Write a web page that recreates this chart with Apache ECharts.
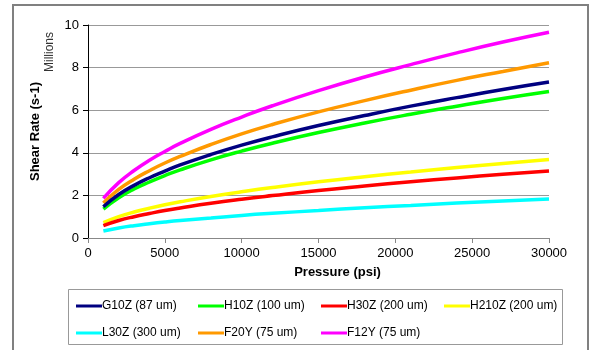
<!DOCTYPE html>
<html>
<head>
<meta charset="UTF-8">
<title>Shear Rate vs Pressure</title>
<script src="https://cdn.jsdelivr.net/npm/echarts@6/dist/echarts.min.js"></script>
<style>
html, body { margin: 0; padding: 0; background: #fff; }
#chart { width: 590px; height: 350px; }
</style>
</head>
<body>
<div id="chart"></div>
<script>
// pressure (psi)
var pressure = [1000, 2000, 3000, 4000, 5000, 6000, 8000, 10000, 12000, 15000, 18000, 21000, 24000, 27000, 30000];

// shear rate, millions s-1
var g10z  = [1.47, 2.04, 2.47, 2.83, 3.14, 3.43, 3.92, 4.36, 4.75, 5.28, 5.75, 6.19, 6.59, 6.97, 7.32];
var h10z  = [1.36, 1.89, 2.30, 2.63, 2.93, 3.20, 3.67, 4.08, 4.45, 4.95, 5.40, 5.81, 6.19, 6.55, 6.88];
var h30z  = [0.58, 0.82, 1.00, 1.15, 1.29, 1.41, 1.63, 1.82, 1.99, 2.23, 2.44, 2.64, 2.82, 2.99, 3.15];
var h210z = [0.72, 1.00, 1.22, 1.40, 1.56, 1.70, 1.95, 2.17, 2.37, 2.64, 2.88, 3.10, 3.31, 3.50, 3.68];
var l30z  = [0.33, 0.47, 0.58, 0.67, 0.75, 0.82, 0.94, 1.06, 1.16, 1.29, 1.42, 1.53, 1.64, 1.74, 1.83];
var f20y  = [1.64, 2.28, 2.76, 3.16, 3.52, 3.83, 4.39, 4.89, 5.33, 5.92, 6.45, 6.94, 7.40, 7.82, 8.23];
var f12y  = [1.86, 2.60, 3.17, 3.65, 4.06, 4.44, 5.10, 5.68, 6.21, 6.92, 7.56, 8.14, 8.69, 9.20, 9.66];

var names = ['G10Z (87 um)', 'H10Z (100 um)', 'H30Z (200 um)', 'H210Z (200 um)', 'L30Z (300 um)', 'F20Y (75 um)', 'F12Y (75 um)'];
var values = [g10z, h10z, h30z, h210z, l30z, f20y, f12y];
var colors = ['#000080', '#00ff00', '#ff0000', '#ffff00', '#00ffff', '#ff9900', '#ff00ff'];

var font = 'Liberation Sans, Arial, sans-serif';

var myChart = echarts.init(document.getElementById('chart'), null, { renderer: 'canvas' });

var series = [];
var legends = [];
// legend slots (4 columns, 2 rows)
var legX = [76, 198, 321, 444];
var legY = [300, 327];
for (var i = 0; i < names.length; i++) {
	var pts = [];
	for (var j = 0; j < pressure.length; j++) {
		pts.push([pressure[j], values[i][j]]);
	}
	series.push({
		name: names[i],
		type: 'line',
		data: pts,
		smooth: true,
		showSymbol: false,
		symbol: 'none',
		lineStyle: { color: colors[i], width: 3.5 },
		itemStyle: { color: colors[i] },
		z: 10 - i
	});
	legends.push({
		data: [{ name: names[i], icon: 'rect' }],
		left: legX[i % 4],
		top: legY[Math.floor(i / 4)],
		itemWidth: 26,
		itemHeight: 3,
		itemGap: 0,
		padding: 0,
		selectedMode: false,
		textStyle: { fontFamily: font, fontSize: 12, color: '#000', padding: [0, 0, 0, -5] }
	});
}

var option = {
	animation: false,
	backgroundColor: '#fff',
	grid: { left: 88, right: 41, top: 25, bottom: 112 },
	legend: legends,
	xAxis: {
		type: 'value',
		min: 0,
		max: 30000,
		interval: 5000,
		name: 'Pressure (psi)',
		nameLocation: 'middle',
		nameGap: 28,
		nameTextStyle: { fontFamily: font, fontSize: 13, fontWeight: 'bold', color: '#000', padding: [0, 0, 0, 38] },
		axisLine: { show: true, lineStyle: { color: '#888', width: 1 } },
		axisTick: { show: true, inside: false, length: 5, lineStyle: { color: '#888' } },
		axisLabel: {
			fontFamily: font, fontSize: 13, color: '#000', margin: 9,
			formatter: function (v) { return String(v); }
		},
		splitLine: { show: false }
	},
	yAxis: {
		type: 'value',
		min: 0,
		max: 10,
		interval: 2,
		name: 'Shear Rate (s-1)',
		nameLocation: 'middle',
		nameGap: 46,
		nameRotate: 90,
		nameTextStyle: { fontFamily: font, fontSize: 13, fontWeight: 'bold', color: '#000' },
		axisLine: { show: true, lineStyle: { color: '#000', width: 1 } },
		axisTick: { show: true, inside: false, length: 5, lineStyle: { color: '#000' } },
		axisLabel: { fontFamily: font, fontSize: 13, color: '#000', margin: 9 },
		splitLine: { show: true, lineStyle: { color: '#999', width: 1 } }
	},
	graphic: [
		{
			type: 'rect',
			shape: { x: 13, y: 5, width: 575, height: 360 },
			style: { fill: 'none', stroke: '#808080', lineWidth: 2 },
			silent: true
		},
		{
			type: 'rect',
			shape: { x: 68.5, y: 289.5, width: 494, height: 55 },
			style: { fill: 'none', stroke: '#999', lineWidth: 1 },
			silent: true
		},
		{
			type: 'text',
			x: 50,
			y: 52,
			rotation: Math.PI / 2,
			style: { text: 'Millions', fontFamily: font, fontSize: 12, fill: '#333', align: 'center', verticalAlign: 'middle' },
			silent: true
		}
	],
	series: series
};
myChart.setOption(option);
</script>
</body>
</html>
